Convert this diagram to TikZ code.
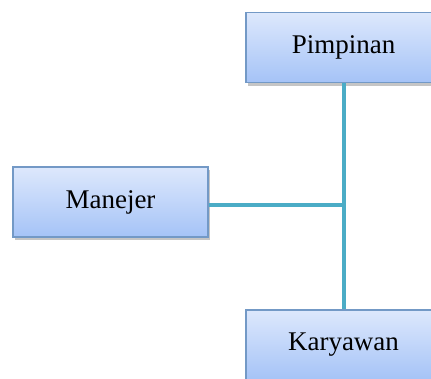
\documentclass[tikz,border=0pt]{standalone}
\usepackage{fontspec}
\setmainfont{Liberation Serif}
\usetikzlibrary{shadows}
\definecolor{boxborder}{HTML}{7399C6}
\definecolor{boxtop}{HTML}{DDE8FC}
\definecolor{boxbot}{HTML}{A5C3F7}
\definecolor{linkcol}{HTML}{4BACC6}
\tikzset{
  orgbox/.style={draw=boxborder, line width=1.2pt, top color=boxtop, bottom color=boxbot,
    minimum width=195pt, minimum height=70pt, inner sep=0pt,
    font=\fontsize{27}{30}\selectfont,
    drop shadow={shadow xshift=2pt, shadow yshift=-3pt, fill=black!45, opacity=0.5}},
  link/.style={draw=linkcol, line width=4pt}
}
\begin{document}
\begin{tikzpicture}[x=1pt,y=-1pt]
\useasboundingbox (0,0) rectangle (431,378);
\clip (0,0) rectangle (431,378);
\node[orgbox] (pim) at (343.5,47.5) {Pimpinan};
\node[orgbox] (man) at (110.5,202) {Manejer};
\node[orgbox] (kar) at (343.5,345) {Karyawan};
\coordinate (j) at (343.5,205);
\draw[link] (pim.south) -- (kar.north);
\draw[link] (man.east |- j) -- (j);
\end{tikzpicture}
\end{document}
